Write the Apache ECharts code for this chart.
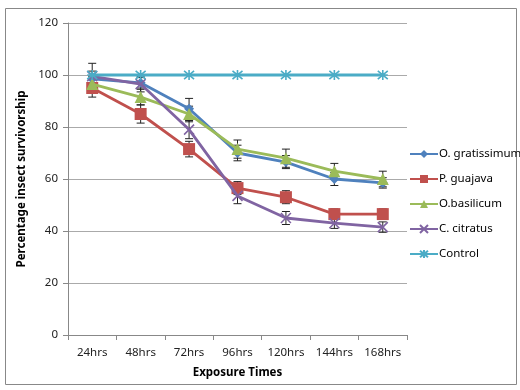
<!DOCTYPE html>
<html><head><meta charset="utf-8">
<script src="https://cdn.jsdelivr.net/npm/echarts@6/dist/echarts.min.js"></script>
<style>html,body{margin:0;padding:0;background:#fff}#c{width:520px;height:390px}</style>
</head><body><div id="c"></div>
<script>
var categories = ['24hrs','48hrs','72hrs','96hrs','120hrs','144hrs','168hrs'];
var yTicks = [0,20,40,60,80,100,120];
var gratissimum = [98.5, 97, 87, 70, 66.5, 60, 58.5];
var guajava = [95, 85, 71.5, 56.5, 53, 46.5, 46.5];
var basilicum = [96.5, 91.5, 85, 71.5, 68, 63, 60];
var citratus = [99.5, 96.5, 79, 53.5, 45, 43, 41.5];
var control = [100, 100, 100, 100, 100, 100, 100];
var errGratissimum = [3, 2, 4, 3, 2.5, 2.5, 2];
var errGuajava = [3.5, 3.5, 3, 2.5, 2.5, 2, 2];
var errBasilicum = [3, 3, 3, 3.5, 3.5, 3, 3];
var errCitratus = [5, 3, 3.5, 3, 2.5, 2, 2];

var names = ['O. gratissimum','P. guajava','O.basilicum','C. citratus','Control'];
var colors = ['#4F81BD','#C0504D','#9BBB59','#8064A2','#4BACC6'];
var values = [gratissimum, guajava, basilicum, citratus, control];
var errs = [errGratissimum, errGuajava, errBasilicum, errCitratus, null];
var symbols = ['diamond','rect','triangle','path://M0,0L10,10M10,0L0,10','path://M0,0L10,10M10,0L0,10M5,-1L5,11M0,5L10,5'];
var sizes = [10, 12, 12, 10, 10];

var series = [];
values.forEach(function(v, i){
  var stroke = i >= 3;
  series.push({
    name: names[i], type: 'line', data: v, symbol: symbols[i], symbolSize: sizes[i],
    showAllSymbol: true, z: 3 + i,
    lineStyle: {color: colors[i], width: 2.8},
    itemStyle: stroke ? {color: 'rgba(0,0,0,0)', borderColor: colors[i], borderWidth: 1.6} : {color: colors[i]},
    emphasis: {disabled: true}, animation: false
  });
  if (errs[i]) {
    var ed = v.map(function(y, k){ return [k, y - errs[i][k], y + errs[i][k]]; });
    series.push({
      type: 'custom', name: names[i] + ' err', data: ed, z: 2, animation: false,
      renderItem: function(params, api){
        var x = api.value(0);
        var lo = api.coord([x, api.value(1)]);
        var hi = api.coord([x, api.value(2)]);
        var w = 4;
        var st = {stroke: '#222', lineWidth: 1};
        return {type: 'group', children: [
          {type: 'line', shape: {x1: lo[0], y1: lo[1], x2: hi[0], y2: hi[1]}, style: st},
          {type: 'line', shape: {x1: lo[0]-w, y1: lo[1], x2: lo[0]+w, y2: lo[1]}, style: st},
          {type: 'line', shape: {x1: hi[0]-w, y1: hi[1], x2: hi[0]+w, y2: hi[1]}, style: st}
        ]};
      },
      encode: {x: 0, y: [1, 2]}
    });
  }
});

var chart = echarts.init(document.getElementById('c'));
chart.setOption({
  animation: false,
  graphic: [{type: 'rect', shape: {x: 5.5, y: 8.5, width: 511, height: 376}, style: {fill: 'none', stroke: '#888', lineWidth: 1}}],
  grid: {left: 68, right: 113, top: 23, bottom: 55},
  legend: {
    orient: 'vertical', left: 404, top: 143, itemGap: 13, itemWidth: 28, itemHeight: 10,
    textStyle: {fontFamily: 'Noto Sans', fontSize: 11.5, color: '#000', padding: [0,0,0,-4]},
    data: names.map(function(n){ return {name: n}; })
  },
  xAxis: {
    type: 'category', data: categories, boundaryGap: true,
    name: 'Exposure Times', nameLocation: 'middle', nameGap: 32,
    nameTextStyle: {fontFamily: 'Noto Sans', fontSize: 11.5, fontWeight: 'bold', color: '#000'},
    axisLine: {lineStyle: {color: '#888'}},
    axisTick: {show: true, length: 5, lineStyle: {color: '#888'}},
    axisLabel: {fontFamily: 'Noto Sans', fontSize: 11.5, color: '#222', margin: 12}
  },
  yAxis: {
    type: 'value', min: 0, max: 120, interval: 20,
    name: 'Percentage insect survivorship', nameLocation: 'middle', nameGap: 33,
    nameTextStyle: {fontFamily: 'Noto Sans', fontSize: 11.5, fontWeight: 'bold', color: '#000'},
    axisLine: {show: true, lineStyle: {color: '#888'}},
    axisTick: {show: true, length: 5, lineStyle: {color: '#888'}},
    axisLabel: {fontFamily: 'Noto Sans', fontSize: 11.5, color: '#222', margin: 10,
      formatter: function(v){ return yTicks.indexOf(v) >= 0 ? String(v) : ''; }},
    splitLine: {lineStyle: {color: '#aaa'}}
  },
  series: series
});
</script></body></html>
